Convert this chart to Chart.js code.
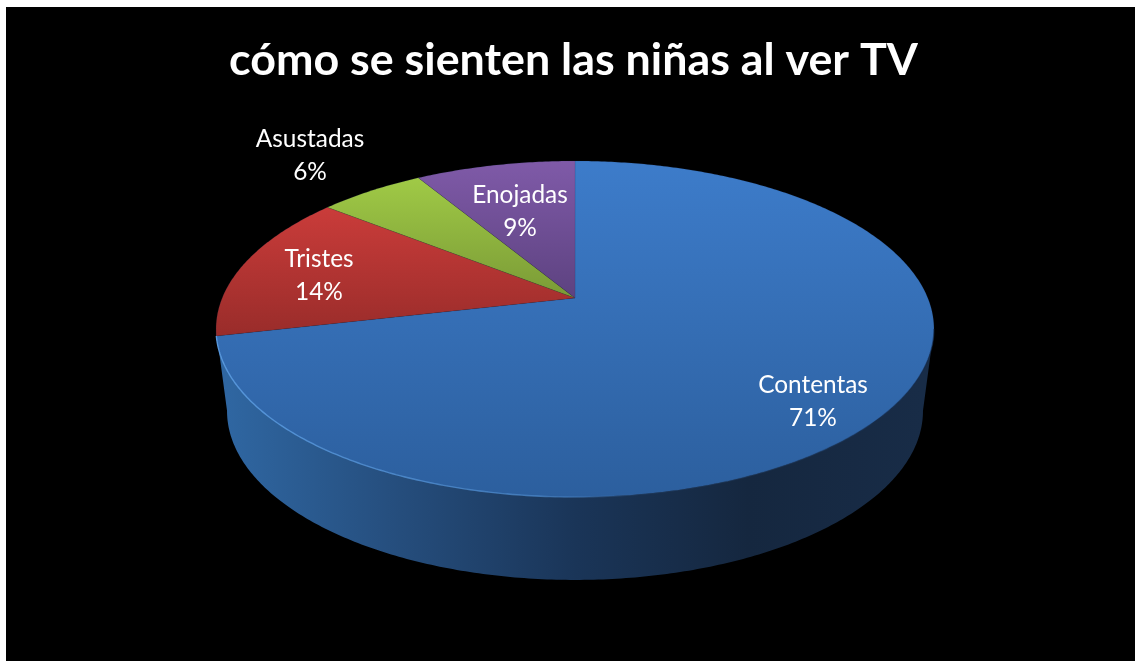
<!DOCTYPE html>
<html>
<head>
<meta charset="utf-8">
<style>
  html, body { margin: 0; padding: 0; background: #fff; overflow: hidden; }
  #wrap { position: absolute; left: 6px; top: 7px; width: 1129px; height: 654px; background: #000; }
</style>
<script src="https://cdn.jsdelivr.net/npm/chart.js@4"></script>
</head>
<body>
<div id="wrap"><canvas id="chart" width="1129" height="654"></canvas></div>
<script>
const categories = ['Contentas', 'Tristes', 'Asustadas', 'Enojadas']
const shares = [71.4, 14.3, 5.7, 8.6]
const title = 'cómo se sienten las niñas al ver TV'

// top and bottom colour of each slice
const sliceTop = ['#3d7cca', '#ca3c3a', '#a0ca46', '#7f5aa8']
const sliceBottom = ['#2c5f9e', '#992c2a', '#7a9a36', '#5d4280']

// page coordinates of the label centres (name line)
const labelSpots = [[813, 385], [319, 259], [310, 139], [520, 195]]

// projected circle: top rim and bottom rim of the tilted pie
const topRim = { cx: 575, cy: 298, q: 352.8, p: 162.3, k: 0.1845 }
const lowRim = { cx: 575, cy: 379.8, q: 342, p: 163.2, k: 0.1845 }

// a = clockwise from 12 o'clock
function project(rim, a) {
  const u = Math.sin(a)
  const v = -Math.cos(a)
  const d = 1 - rim.k * v
  return [rim.cx + (rim.q * u) / d, rim.cy + (rim.p * v) / d]
}

function trace(ctx, rim, from, to) {
  const steps = Math.max(2, Math.ceil(Math.abs(to - from) * 90))
  for (let i = 0; i <= steps; i++) {
    const [x, y] = project(rim, from + ((to - from) * i) / steps)
    ctx.lineTo(x, y)
  }
}

function bounds(rim, from, to) {
  let ys = [rim.cy]
  for (let i = 0; i <= 60; i++) ys.push(project(rim, from + ((to - from) * i) / 60)[1])
  return [Math.min(...ys), Math.max(...ys)]
}

const tiltedPie = {
  id: 'tiltedPie',
  beforeDatasetsDraw(chart) {
    const ctx = chart.ctx
    const arcs = chart.getDatasetMeta(0).data
    const toClock = (angle) => angle + Math.PI / 2

    ctx.save()
    ctx.translate(-6, -7)

    // side wall, between the widest points of the rim
    const wallFrom = Math.PI / 2 + 0.185
    const wallTo = (3 * Math.PI) / 2 - 0.185
    const wall = ctx.createLinearGradient(228, 0, 922, 0)
    wall.addColorStop(0, '#2f66a1')
    wall.addColorStop(0.25, '#254d7c')
    wall.addColorStop(0.5, '#1a3558')
    wall.addColorStop(0.75, '#15273f')
    wall.addColorStop(1, '#182c47')
    ctx.beginPath()
    trace(ctx, topRim, wallFrom, wallTo)
    trace(ctx, lowRim, wallTo, wallFrom)
    ctx.closePath()
    ctx.fillStyle = wall
    ctx.fill()

    // top face
    arcs.forEach((arc, i) => {
      const from = toClock(arc.startAngle)
      const to = toClock(arc.endAngle)
      const [y0, y1] = bounds(topRim, from, to)
      const fill = ctx.createLinearGradient(0, y0, 0, y1)
      fill.addColorStop(0, sliceTop[i])
      fill.addColorStop(1, sliceBottom[i])
      ctx.beginPath()
      ctx.moveTo(topRim.cx, topRim.cy)
      trace(ctx, topRim, from, to)
      ctx.closePath()
      ctx.fillStyle = fill
      ctx.fill()
      ctx.strokeStyle = 'rgba(40,50,90,0.2)'
      ctx.lineWidth = 0.7
      ctx.stroke()
    })

    // light edge where the top face meets the wall
    const edge = ctx.createLinearGradient(216, 0, 934, 0)
    edge.addColorStop(0, 'rgba(90,155,225,0.95)')
    edge.addColorStop(0.45, 'rgba(80,145,215,0.7)')
    edge.addColorStop(0.6, 'rgba(60,110,170,0.15)')
    edge.addColorStop(1, 'rgba(15,35,65,0.5)')
    ctx.beginPath()
    trace(ctx, topRim, toClock(arcs[0].endAngle), wallFrom)
    ctx.strokeStyle = edge
    ctx.lineWidth = 1.4
    ctx.stroke()

    ctx.restore()
    return false
  },
  // returning false above also skips afterDatasetsDraw
  afterDraw(chart) {
    const ctx = chart.ctx
    ctx.save()
    ctx.translate(-6, -7)
    ctx.fillStyle = '#fff'
    ctx.textAlign = 'center'
    ctx.textBaseline = 'middle'
    ctx.font = '24.4px Lato'
    categories.forEach((name, i) => {
      const [x, y] = labelSpots[i]
      ctx.fillText(name, x, y)
      ctx.fillText(Math.round(shares[i]) + '%', x, y + 33)
    })
    ctx.restore()
  }
}

new Chart(document.getElementById('chart'), {
  type: 'pie',
  data: {
    labels: categories,
    datasets: [{ data: shares, backgroundColor: sliceTop, borderWidth: 0 }]
  },
  options: {
    responsive: false,
    animation: false,
    layout: { padding: { left: 6 } },
    plugins: {
      legend: { display: false },
      tooltip: { enabled: false },
      title: {
        display: true,
        text: title,
        color: '#fff',
        font: { family: 'Lato', size: 44.8, weight: 'bold' },
        padding: { top: 27, bottom: 10 }
      }
    }
  },
  plugins: [tiltedPie]
})
</script>
</body>
</html>
